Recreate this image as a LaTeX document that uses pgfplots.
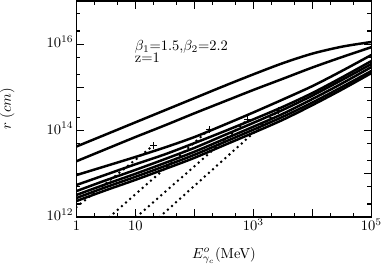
\documentclass[border=0pt]{standalone}
\usepackage{pgfplots}
\pgfplotsset{compat=1.18}
\begin{document}
\begin{tikzpicture}
\begin{axis}[
  scale only axis, width=203.4pt, height=149pt,
  xmode=log, ymode=log,
  xmin=1, xmax=1e5, ymin=1e12, ymax=1e17,
  xtick={1,10,100,1000,10000,100000},
  xticklabels={$1$,$10$,,$10^3$,,$10^5$},
  ytick={1e12,1e13,1e14,1e15,1e16},
  yticklabels={$10^{12}$,,$10^{14}$,,$10^{16}$},
  minor xtick={2,5,20,50,200,500,2000,5000,20000,50000},
  minor ytick={2e12,5e12,2e13,5e13,2e14,5e14,2e15,5e15,2e16,5e16},
  tick align=inside,
  major tick length=5.5pt, minor tick length=2.8pt,
  every tick/.style={black, line width=0.8pt},
  axis line style={line width=1.2pt},
  typeset ticklabels with strut,
  xticklabel style={inner xsep=0pt, yshift=2.4pt},
  yticklabel style={inner xsep=0pt, xshift=-1.8pt},
  xlabel={$E^{o}_{\gamma_c}$(MeV)},
  xlabel style={yshift=-0.8pt},
  ylabel={$r\ (cm)$},
  ylabel style={inner sep=0pt},
  ylabel shift=22pt,
  solid/.style={black, line width=1.7pt, smooth},
  dots/.style={black, line width=1.9pt, line cap=round, dash pattern=on 0pt off 3.8pt},
]
% solid curves
\addplot[solid] coordinates {(1,4.27e13) (3.162,8.13e13) (10,1.55e14) (31.62,2.95e14) (100,5.62e14) (316.2,1.07e15) (1000,2.00e15) (3162,3.63e15) (10000,6.03e15) (31620,8.71e15) (100000,1.12e16)};
\addplot[solid] coordinates {(1,1.95e13) (3.162,3.72e13) (10,7.08e13) (31.62,1.32e14) (100,2.51e14) (316.2,4.68e14) (1000,8.71e14) (3162,1.58e15) (10000,2.88e15) (31620,5.01e15) (100000,8.51e15)};
\addplot[solid] coordinates {(1,9.33e12) (3.162,1.51e13) (10,2.45e13) (31.62,4.07e13) (100,7.08e13) (316.2,1.35e14) (1000,2.63e14) (3162,5.25e14) (10000,1.07e15) (31620,2.40e15) (100000,5.62e15)};
\addplot[solid] coordinates {(1,5.50e12) (3.162,9.55e12) (10,1.66e13) (31.62,2.82e13) (100,5.13e13) (316.2,9.55e13) (1000,1.82e14) (3162,3.55e14) (10000,7.41e14) (31620,1.70e15) (100000,4.07e15)};
\addplot[solid] coordinates {(1,3.98e12) (3.162,7.08e12) (10,1.23e13) (31.62,2.19e13) (100,3.98e13) (316.2,7.76e13) (1000,1.51e14) (3162,3.02e14) (10000,6.46e14) (31620,1.48e15) (100000,3.47e15)};
\addplot[solid] coordinates {(1,3.24e12) (3.162,5.75e12) (10,1.00e13) (31.62,1.78e13) (100,3.24e13) (316.2,6.31e13) (1000,1.23e14) (3162,2.45e14) (10000,5.37e14) (31620,1.23e15) (100000,2.95e15)};
\addplot[solid] coordinates {(1,2.75e12) (3.162,4.90e12) (10,8.51e12) (31.62,1.51e13) (100,2.75e13) (316.2,5.37e13) (1000,1.05e14) (3162,2.09e14) (10000,4.47e14) (31620,1.02e15) (100000,2.40e15)};
\addplot[solid] coordinates {(1,2.34e12) (3.162,4.17e12) (10,7.24e12) (31.62,1.29e13) (100,2.34e13) (316.2,4.57e13) (1000,8.91e13) (3162,1.78e14) (10000,3.89e14) (31620,8.91e14) (100000,2.14e15)};
% dotted curves
\addplot[dots] coordinates {(1,1.70e12) (20,4.5e13)};
\addplot[dots] coordinates {(3.63,1.0e12) (177.8,1.05e14)};
\addplot[dots] coordinates {(10.4,1.0e12) (794,1.78e14)};
\addplot[dots] coordinates {(25.7,1.0e12) (2630,2.88e14)};
% junction markers
\addplot[only marks, mark=+, mark size=2.3pt, line width=0.7pt] coordinates {(20,4.5e13) (177.8,1.05e14) (794,1.78e14) (2630,2.88e14)};
\node[anchor=north west, align=left, inner sep=0pt] at (rel axis cs:0.197,0.82) {$\beta_1$=1.5,$\beta_2$=2.2\\[-3.5pt] z=1};
\end{axis}
\end{tikzpicture}
\end{document}
